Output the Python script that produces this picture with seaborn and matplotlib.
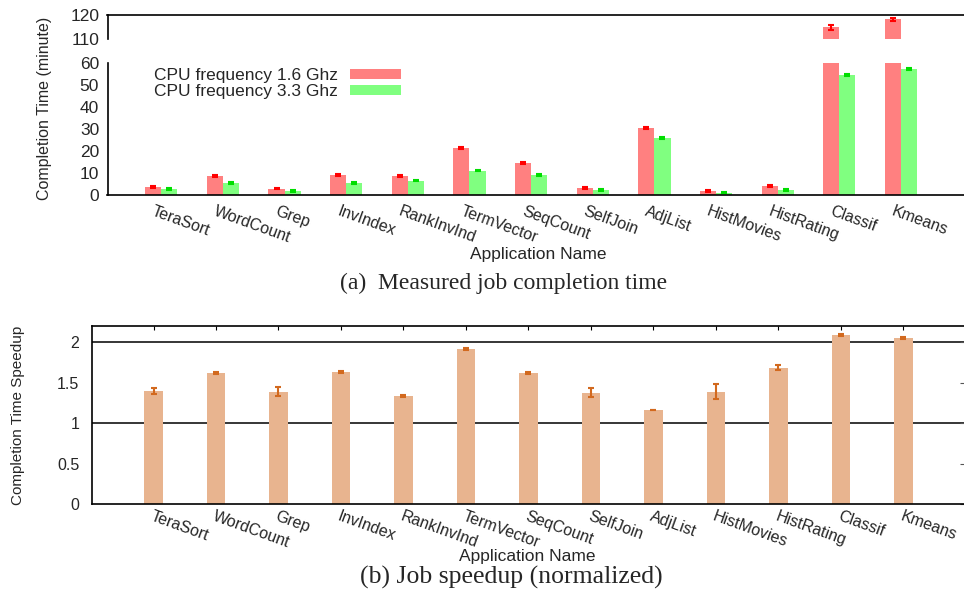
import numpy as np
import pandas as pd
import matplotlib
matplotlib.use("Agg")
import matplotlib.pyplot as plt
import seaborn as sns

sns.set_style("white")
plt.rcParams['font.family'] = ['Liberation Sans', 'DejaVu Sans']

# data
apps = ["TeraSort", "WordCount", "Grep", "InvIndex", "RankInvInd", "TermVector",
        "SeqCount", "SelfJoin", "AdjList", "HistMovies", "HistRating", "Classif", "Kmeans"]
time_16 = [3.8, 8.8, 3.0, 9.2, 8.8, 21.5, 14.7, 3.3, 30.6, 1.9, 4.2, 114.8, 118.2]
time_33 = [2.9, 5.6, 2.0, 5.6, 6.7, 11.2, 9.2, 2.4, 26.0, 1.2, 2.4, 54.7, 57.4]
err_16 = [0.3, 0.3, 0.3, 0.3, 0.3, 0.3, 0.3, 0.3, 0.3, 0.3, 0.3, 1.1, 0.6]
err_33 = [0.3, 0.3, 0.3, 0.3, 0.3, 0.3, 0.3, 0.3, 0.3, 0.3, 0.3, 0.4, 0.4]
speedup = [1.40, 1.62, 1.39, 1.635, 1.34, 1.92, 1.62, 1.38, 1.165, 1.39, 1.685, 2.09, 2.055]
speed_err = [0.035, 0.01, 0.055, 0.01, 0.01, 0.01, 0.01, 0.06, 0.005, 0.093, 0.033, 0.01, 0.01]
series = ["CPU frequency 1.6 Ghz", "CPU frequency 3.3 Ghz"]

red, green = "#ff8080", "#80ff80"
red_err, green_err = "#ff0000", "#00dd00"
tan, tan_err = "#e8b48f", "#d2691e"

df = pd.DataFrame({
    "app": apps * 2,
    "time": time_16 + time_33,
    "err": err_16 + err_33,
    "cpu": [series[0]] * len(apps) + [series[1]] * len(apps),
})
df_sp = pd.DataFrame({"app": apps, "speedup": speedup, "err": speed_err})

W, H = 964, 590
fig = plt.figure(figsize=(W / 100, H / 100), dpi=100)
serif = ["Liberation Serif", "DejaVu Serif"]


def fbox(x0, y0, x1, y1):
    # pixel box (top-left origin) -> figure rect
    return [x0 / W, 1 - y1 / H, (x1 - x0) / W, (y1 - y0) / H]


ax_hi = fig.add_axes(fbox(107.5, 15, 964, 39))
ax_lo = fig.add_axes(fbox(107.5, 63.3, 964, 195.3))
ax_sp = fig.add_axes(fbox(91.7, 325.7, 964, 504.3))

# --- top: completion time, broken axis
for ax in (ax_hi, ax_lo):
    sns.barplot(data=df, x="app", y="time", hue="cpu", ax=ax, width=0.52,
                palette=[red, green], errorbar=None, saturation=1,
                legend=(ax is ax_lo), linewidth=0)
    for i, (cpu, ecol) in enumerate(zip(series, [red_err, green_err])):
        sub = df[df["cpu"] == cpu]
        xs = [p.get_x() + p.get_width() / 2 for p in ax.containers[i].patches]
        ax.errorbar(xs, sub["time"], yerr=sub["err"], fmt="none", ecolor=ecol,
                    elinewidth=1.5, capsize=2.5, capthick=1.5, zorder=3)
    ax.set_xlim(-0.871, 13.02)
    ax.set_xlabel("")
    ax.set_ylabel("")
    ax.tick_params(axis="y", length=0, labelsize=12.5, pad=6)
    ax.tick_params(axis="x", length=0)
    for s in ax.spines.values():
        s.set_color("black")
        s.set_linewidth(1.2)
    ax.spines["right"].set_visible(False)

ax_hi.set_ylim(110, 120)
ax_hi.set_yticks([110, 120])
ax_hi.spines["bottom"].set_visible(False)
ax_hi.set_xticks([])

ax_lo.set_ylim(0, 60)
ax_lo.set_yticks(range(0, 61, 10))
ax_lo.spines["top"].set_visible(False)
ax_lo.set_xticks(range(len(apps)))
ax_lo.set_xticklabels(apps, rotation=-20, ha="left", va="top",
                      rotation_mode="anchor", fontsize=11.5)
for lab in ax_lo.get_xticklabels():
    lab.set_transform(lab.get_transform() + matplotlib.transforms.ScaledTranslation(-0.06, -0.04, fig.dpi_scale_trans))

handles, labels = ax_lo.get_legend_handles_labels()
ax_lo.legend(handles, labels, loc="upper left", bbox_to_anchor=(154 / W, 1 - 68 / H),
             bbox_transform=fig.transFigure, frameon=False, borderaxespad=0,
             borderpad=0, markerfirst=False, handlelength=2.9, handleheight=0.5,
             handletextpad=0.7, labelspacing=0.05, fontsize=12.5)

fig.text(45 / W, 1 - 108 / H, "Completion Time (minute)", rotation=90,
         ha="center", va="center", fontsize=11.5)
fig.text(538 / W, 1 - 254 / H, "Application Name", ha="center", va="center", fontsize=12.5)
fig.text(504 / W, 1 - 283 / H, "(a)  Measured job completion time", ha="center",
         va="center", fontsize=17, family=serif)

# --- bottom: speedup
sns.barplot(data=df_sp, x="app", y="speedup", ax=ax_sp, width=0.30, color=tan,
            errorbar=None, saturation=1, linewidth=0)
xs = [p.get_x() + p.get_width() / 2 for p in ax_sp.patches]
ax_sp.errorbar(xs, df_sp["speedup"], yerr=df_sp["err"], fmt="none", ecolor=tan_err,
               elinewidth=1.5, capsize=2.5, capthick=1.5, zorder=3)
ax_sp.axhline(1, color="black", lw=1.1, zorder=0.5)
ax_sp.axhline(2, color="black", lw=1.1, zorder=0.5)
ax_sp.set_xlim(-0.989, 12.97)
ax_sp.set_ylim(0, 2.205)
ax_sp.set_yticks([0, 0.5, 1, 1.5, 2])
ax_sp.set_yticklabels(["0", "0.5", "1", "1.5", "2"])
ax_sp.set_xlabel("")
ax_sp.set_ylabel("")
ax_sp.tick_params(axis="y", left=False, right=True, direction="in", length=3,
                  color="#555555", labelsize=11.5, pad=9)
ax_sp.tick_params(axis="x", bottom=False, top=True, direction="in", length=3,
                  color="black")
ax_sp.set_xticks(range(len(apps)))
ax_sp.set_xticklabels(apps, rotation=-20, ha="left", va="top",
                      rotation_mode="anchor", fontsize=11.5)
for lab in ax_sp.get_xticklabels():
    lab.set_transform(lab.get_transform() + matplotlib.transforms.ScaledTranslation(0.0, 0.0, fig.dpi_scale_trans))
for s in ax_sp.spines.values():
    s.set_color("black")
    s.set_linewidth(1.2)
ax_sp.spines["right"].set_visible(False)

fig.text(18 / W, 1 - 415 / H, "Completion Time Speedup", rotation=90,
         ha="center", va="center", fontsize=11)
fig.text(527 / W, 1 - 557 / H, "Application Name", ha="center", va="center", fontsize=12.5)
fig.text(511 / W, 1 - 577 / H, "(b) Job speedup (normalized)", ha="center",
         va="center", fontsize=18.5, family=serif)

fig.savefig("out.png", dpi=100)
